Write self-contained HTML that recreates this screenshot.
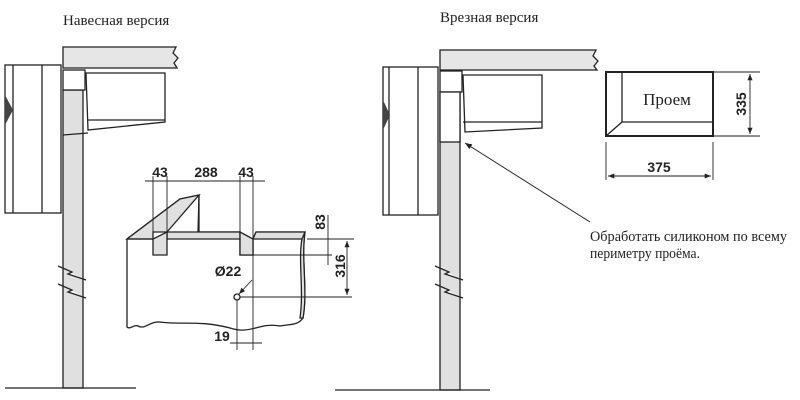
<!DOCTYPE html>
<html><head><meta charset="utf-8"><style>
html,body{margin:0;padding:0;background:#fff;width:800px;height:400px;overflow:hidden}
</style></head><body>
<svg width="800" height="400" viewBox="0 0 800 400" xmlns="http://www.w3.org/2000/svg">
<defs>
<marker id="a" viewBox="0 0 10 10" refX="10" refY="5" markerWidth="7" markerHeight="7" orient="auto-start-reverse"><path d="M0,1 L10,5 L0,9 z" fill="#222"/></marker>
</defs>
<g font-family="Liberation Serif, serif" fill="#222" font-size="15">
<text x="63" y="25">Навесная версия</text>
<text x="440" y="22">Врезная версия</text>
<text x="590" y="241" textLength="197" lengthAdjust="spacingAndGlyphs">Обработать силиконом по всему</text>
<text x="590" y="258" textLength="110" lengthAdjust="spacingAndGlyphs">периметру проёма.</text>
<text x="667" y="105" text-anchor="middle" font-size="17">Проем</text>
</g>
<g stroke="#222" stroke-width="1.3" fill="none">
<path d="M63,47 H176 L173,53 L178,58 L174,63 L177,68 H63 Z" fill="#e6e6e6"/>
<rect x="63" y="90" width="20" height="298" fill="#e0e0e0"/>
<rect x="63" y="70" width="22" height="20" fill="#fff"/>
<rect x="5" y="65" width="56" height="148" fill="#fff"/>
<line x1="13" y1="65" x2="13" y2="213"/>
<line x1="42" y1="65" x2="42" y2="213"/>
<path d="M5,95 L13,110 L5,125 Z" fill="#444" stroke="none"/>
<path d="M86,73 H165 V122 L88,130 Z" fill="#fff"/>
<line x1="87" y1="120" x2="165" y2="120"/>
<line x1="63" y1="135" x2="88" y2="133"/>
<path d="M58,266 L72,272 L68,274 L86,280" fill="#fff"/>
<path d="M58,284 L72,290 L68,292 L86,298" fill="#fff"/>
<line x1="5" y1="388" x2="136" y2="388"/>
<path d="M440,50 H596 L593,56 L598,61 L594,66 L597,70 H440 Z" fill="#e6e6e6"/>
<rect x="440" y="92" width="20" height="298" fill="#e0e0e0"/>
<rect x="440" y="71" width="22" height="21" fill="#fff"/>
<rect x="440" y="92" width="20" height="50" fill="#fff"/>
<rect x="383" y="67" width="55" height="148" fill="#fff"/>
<line x1="389" y1="67" x2="389" y2="215"/>
<line x1="418" y1="67" x2="418" y2="215"/>
<path d="M383,100 L390,115 L383,130 Z" fill="#444" stroke="none"/>
<path d="M463,75 H542 V128 L465,132 Z" fill="#fff"/>
<line x1="463" y1="122" x2="542" y2="122"/>
<path d="M435,266 L449,272 L445,274 L463,280" fill="#fff"/>
<path d="M435,284 L449,290 L445,292 L463,298" fill="#fff"/>
<line x1="335" y1="390" x2="490" y2="390"/>
<line x1="590" y1="222" x2="465" y2="143" stroke-width="1" marker-end="url(#a)"/>
<rect x="606" y="72" width="107" height="64" stroke-width="2"/>
<line x1="622" y1="72" x2="622" y2="122"/>
<line x1="622" y1="122" x2="713" y2="122"/>
<line x1="606" y1="136" x2="622" y2="122"/>
<g stroke-width="0.9">
<line x1="713" y1="72" x2="760" y2="72"/>
<line x1="713" y1="136" x2="760" y2="136"/>
<line x1="750" y1="74" x2="750" y2="134" marker-start="url(#a)" marker-end="url(#a)"/>
<line x1="606" y1="142" x2="606" y2="180"/>
<line x1="713" y1="142" x2="713" y2="180"/>
<line x1="608" y1="176" x2="711" y2="176" marker-start="url(#a)" marker-end="url(#a)"/>
</g>
<path d="M127,239 L180,199 L199,195 L198,232 H240 V255 H253 V239 L256,232 H305 C301,260 308,290 303,318 C298,325 292,324 280,326 C260,322 250,335 230,328 C200,320 180,325 160,322 C150,321 145,330 138,326 C134,324 130,330 127,327 Z" fill="#fff"/>
<path d="M127,239 L180,199 L199,195 L167,232 H153 V239 Z" fill="#e0e0e0"/>
<path d="M167,232 H240 V239 H167 Z M256,232 H305 L303,239 H253 Z" fill="#e0e0e0"/>
<path d="M153,239 V255 H167 V232 Z" fill="#e0e0e0"/>
<path d="M240,232 V255 H253 V239 Z" fill="#e0e0e0"/>
<path d="M305,232 C301,260 308,290 303,318 L300,318 C304,290 298,260 302,239 Z" fill="#e0e0e0"/>
<line x1="127" y1="239" x2="153" y2="239"/>
<line x1="199" y1="195" x2="199" y2="232"/>
<circle cx="237" cy="297" r="3" fill="#fff"/>
<g stroke-width="0.9">
<line x1="153" y1="176" x2="153" y2="255"/>
<line x1="167" y1="176" x2="167" y2="239"/>
<line x1="240" y1="176" x2="240" y2="232"/>
<line x1="253" y1="176" x2="253" y2="350"/>
<line x1="145" y1="181" x2="265" y2="181"/>
<line x1="307" y1="239" x2="354" y2="239"/>
<line x1="253" y1="255" x2="332" y2="255"/>
<line x1="240" y1="297" x2="352" y2="297"/>
<line x1="328" y1="215" x2="328" y2="265"/>
<line x1="347" y1="241" x2="347" y2="295" marker-start="url(#a)" marker-end="url(#a)"/>
<line x1="237" y1="300" x2="237" y2="350"/>
<line x1="230" y1="343" x2="262" y2="343"/>
<line x1="252" y1="280" x2="239" y2="294" marker-end="url(#a)"/>
</g>
</g>
<g font-family="Liberation Sans, sans-serif" font-weight="bold" font-size="14" fill="#222">
<text x="160" y="177" text-anchor="middle">43</text>
<text x="206" y="177" text-anchor="middle">288</text>
<text x="246" y="177" text-anchor="middle">43</text>
<text x="228" y="276" text-anchor="middle">Ø22</text>
<text x="222" y="341" text-anchor="middle">19</text>
<text transform="translate(325,222) rotate(-90)" text-anchor="middle">83</text>
<text transform="translate(345,266) rotate(-90)" text-anchor="middle">316</text>
<text transform="translate(746,104) rotate(-90)" text-anchor="middle">335</text>
<text x="659" y="172" text-anchor="middle">375</text>
</g>
</svg>
</body></html>
